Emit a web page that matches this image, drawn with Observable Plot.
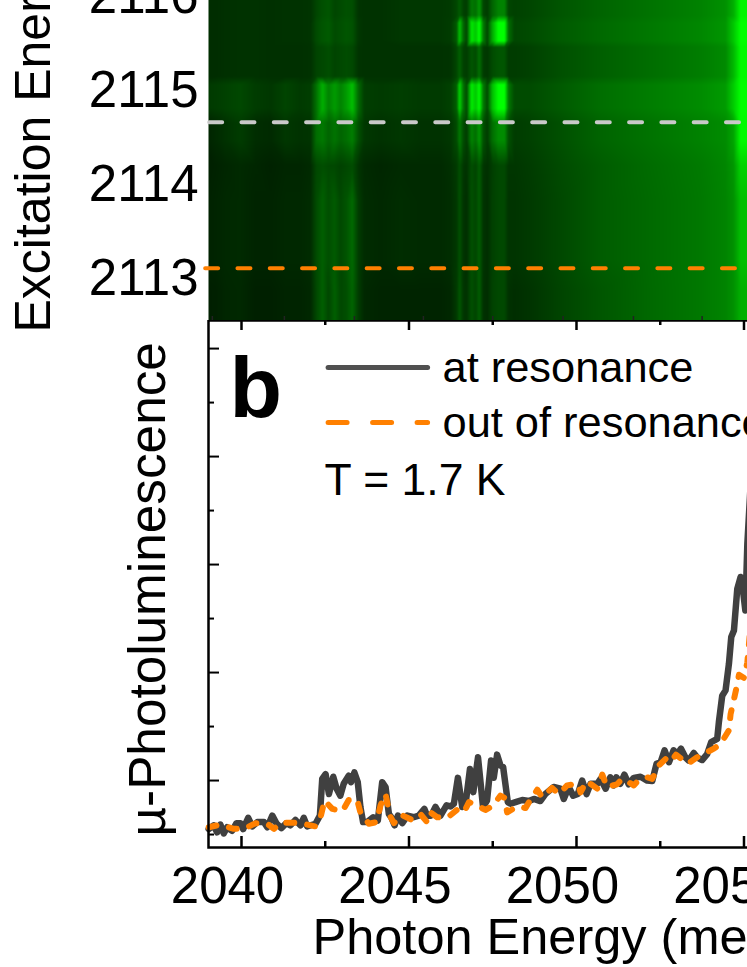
<!DOCTYPE html>
<html><head><meta charset="utf-8">
<style>
html,body{margin:0;padding:0;background:#fff;width:747px;height:967px;overflow:hidden}
svg{display:block;font-family:"Liberation Sans",Arial,sans-serif}
</style>
<script src="https://cdn.jsdelivr.net/npm/d3@7"></script>
<script src="https://cdn.jsdelivr.net/npm/@observablehq/plot@0.6"></script>
</head><body><div id="chart"></div>
<script>
// ---------- panel a: PLE map ----------
const mapEnergy=[2038.78,2039.22,2039.52,2039.97,2040.42,2040.87,2041.31,2041.76,2042.06,2042.24,2042.42,2042.60,2042.78,2042.96,2043.13,2043.31,2043.49,2043.67,2044.15,2044.75,2045.34,2045.94,2046.24,2046.42,2046.51,2046.63,2046.72,2046.87,2046.99,2047.10,2047.22,2047.34,2047.49,2047.67,2047.85,2047.97,2048.15,2048.63,2049.52,2050.72,2052.21,2053.70,2054.45,2054.69,2054.90,2060];
const profileTop=[45,45,48,50,50,48,50,50,52,70,80,85,70,75,80,78,52,50,50,55,55,55,58,70,90,65,60,120,110,150,70,60,100,130,130,70,65,70,85,100,115,130,145,175,245,255];
const profileBright=[45,45,48,50,50,48,50,50,52,75,85,90,75,80,85,82,55,50,50,55,55,55,60,90,190,100,70,230,200,255,120,70,170,255,255,110,70,75,90,105,120,135,150,200,255,255];
const profileDim=[45,45,48,50,50,48,48,48,50,68,72,78,68,72,76,72,52,50,50,50,50,50,52,70,95,65,60,85,75,110,60,55,75,85,85,60,60,65,80,95,110,125,138,185,250,255];
const profileBright2=[55,60,65,72,60,55,68,58,62,115,175,130,155,130,155,190,105,62,58,62,58,58,65,95,210,110,75,235,200,250,120,75,190,255,255,120,75,75,90,110,125,140,155,205,255,255];
const profileFade=[32,42,50,60,45,42,55,50,52,110,120,100,115,100,110,125,80,55,50,55,50,50,55,75,120,75,60,130,110,150,80,60,110,140,140,80,60,65,80,100,115,130,140,165,250,255];
const profileLow=[30,34,38,42,38,34,38,38,42,72,78,72,72,65,70,76,52,42,38,42,42,42,48,58,78,54,50,78,68,92,54,48,62,72,72,54,54,60,75,92,108,122,134,150,210,230];
const profileMid=[32,36,40,42,36,36,40,40,44,76,95,78,90,72,84,105,60,44,40,45,42,42,46,56,80,52,46,80,70,92,52,46,64,72,72,52,52,58,72,92,106,120,132,145,190,220];
const profileBottom=[30,32,38,40,32,32,36,36,40,72,95,70,95,72,78,100,60,40,36,36,36,36,40,58,85,54,50,80,68,92,50,45,66,72,72,50,46,52,68,86,105,120,132,145,175,205];
const mapExcitation=[2116.40,2115.80,2115.72,2115.53,2115.46,2115.15,2115.06,2114.81,2114.66,2114.47,2114.20,2113.83,2113.19,2112.87,2112.45];
const mapProfiles=[profileTop,profileTop,profileBright,profileBright,profileDim,profileDim,profileBright2,profileBright2,profileFade,profileFade,profileLow,profileMid,profileMid,profileBottom,profileBottom];
const excitationTicks=[2113,2114,2115,2116];
const resonantLine=[2114.663];
const offResonantLine=[2113.11];
const tinyTicks=[2039.13,2041.28,2043.37,2045.43,2047.5,2049.6,2051.7,2053.75];

// ---------- panel b: spectra ----------
const darkX=[2039.02,2039.17,2039.27,2039.37,2039.47,2039.57,2039.72,2039.85,2039.97,2040.05,2040.20,2040.32,2040.47,2040.67,2040.77,2040.92,2041.05,2041.19,2041.34,2041.46,2041.61,2041.76,2041.86,2041.96,2042.21,2042.34,2042.41,2042.51,2042.61,2042.74,2042.84,2042.95,2043.05,2043.20,2043.27,2043.37,2043.47,2043.55,2043.63,2043.75,2043.93,2044.07,2044.20,2044.30,2044.40,2044.47,2044.57,2044.67,2044.80,2044.95,2045.14,2045.29,2045.46,2045.54,2045.66,2045.79,2045.94,2046.12,2046.24,2046.34,2046.46,2046.59,2046.69,2046.82,2046.92,2047.06,2047.21,2047.33,2047.45,2047.53,2047.63,2047.73,2047.81,2047.95,2048.03,2048.18,2048.38,2048.58,2048.73,2048.92,2049.07,2049.32,2049.52,2049.62,2049.77,2049.90,2050.04,2050.17,2050.30,2050.42,2050.62,2050.72,2050.87,2051.01,2051.11,2051.19,2051.31,2051.43,2051.56,2051.71,2051.91,2052.11,2052.26,2052.39,2052.51,2052.63,2052.76,2052.90,2053.00,2053.12,2053.25,2053.35,2053.50,2053.60,2053.75,2053.90,2054.02,2054.20,2054.25,2054.35,2054.45,2054.55,2054.62,2054.70,2054.80,2054.90,2054.97,2055.04,2055.10,2055.20];
const darkY=[.10,.17,.04,.185,.02,.135,.07,.21,.21,.10,.31,.15,.23,.23,.135,.35,.20,.12,.21,.17,.27,.17,.31,.15,.20,.35,1.03,1.12,.75,1.07,.85,.72,.94,1.09,.97,1.15,.97,.51,.23,.23,.32,.26,.97,.88,.38,.32,.17,.35,.21,.35,.32,.35,.475,.35,.35,.51,.35,.54,.52,.57,1.05,.51,.57,1.215,.785,1.43,.51,.63,1.37,1.05,1.48,1.28,1.25,.60,.57,.60,.64,.62,.66,.62,.75,.88,.85,.66,.88,.72,.75,1.0,.75,.94,.94,1.03,.85,1.06,.91,1.06,.94,1.11,.93,1.05,1.07,1.0,.99,1.31,1.34,1.56,1.34,1.56,1.48,1.59,1.43,1.37,1.51,1.43,1.38,1.49,1.71,1.77,2.08,2.57,2.67,3.16,3.66,3.78,4.55,4.77,4.52,4.15,5.38,6.5];
const orangeX=[2039.02,2039.37,2039.77,2040.07,2040.42,2040.77,2040.97,2041.16,2041.46,2041.76,2042.21,2042.36,2042.48,2042.71,2043.01,2043.20,2043.45,2043.55,2043.80,2044.03,2044.15,2044.30,2044.43,2044.55,2044.75,2045.09,2045.34,2045.54,2045.64,2045.84,2046.14,2046.44,2046.64,2046.79,2046.98,2047.28,2047.48,2047.73,2047.85,2047.93,2048.23,2048.48,2048.58,2048.83,2048.98,2049.27,2049.47,2049.72,2050.04,2050.12,2050.30,2050.62,2050.77,2050.91,2051.21,2051.36,2051.56,2051.71,2051.86,2052.11,2052.26,2052.46,2052.66,2052.81,2052.97,2053.20,2053.32,2053.60,2054.10,2054.30,2054.55,2054.60,2054.67,2054.78,2054.85,2055.0,2055.1,2055.2];
const orangeY=[.135,.185,.105,.105,.21,.20,.105,.215,.22,.21,.15,.32,.63,.475,.43,.64,.65,.41,.20,.23,.54,.75,.35,.21,.37,.27,.38,.23,.41,.32,.31,.46,.41,.60,.555,.455,.52,.72,.68,.41,.52,.49,.60,.83,.69,.865,.75,.91,.94,.78,.99,.85,1.11,.88,.93,1.03,.97,.91,1.01,1.06,1.03,1.28,1.40,1.34,1.48,1.37,1.31,1.43,1.59,1.68,1.93,2.23,2.42,2.73,2.96,2.90,3.19,3.9];
const energyMajor=[2040,2045,2050,2055];
const energyMinor=[2042.5,2047.5,2052.5,2057.5];
const intensityMajor=[1,3,5,7,9];
const intensityMinor=[0,2,4,6,8];
const legendLabels=["at resonance","out of resonance"];
const legendSpan=[2042.6,2045.57];
const legendLevels=[8.65,7.63];

// ---------- layout shared by the two panels ----------
const W=900, LEFT=208, xDomain=[2039.015,2059.672];
const table=mapExcitation.flatMap((e,i)=>mapEnergy.map((x,j)=>({x,e,v:mapProfiles[i][j]})));
const darkData=darkX.map((x,i)=>({x,y:darkY[i]}));
const orangeData=orangeX.map((x,i)=>({x,y:orangeY[i]}));
const H1=360, H2=647, MB=120, FRAME2=H2-MB;

const panelA=Plot.plot({
  width:W,height:H1,marginLeft:LEFT,marginRight:0,marginTop:0,marginBottom:0,
  style:{maxWidth:"none",height:H1+"px",marginTop:"-40px",background:"transparent",overflow:"visible"},
  x:{domain:xDomain,axis:null},
  y:{domain:[2112.553,2116.383],axis:null},
  color:{type:"linear",domain:[0,255],range:["#000000","#00ff00"]},
  marks:[
    Plot.raster(table,{x:"x",y:"e",fill:"v",interpolate:"barycentric",pixelSize:1}),
    Plot.axisY({ticks:excitationTicks,tickFormat:"d",tickSize:0,tickPadding:10,fontSize:51,label:null}),
    Plot.tickX(tinyTicks,{x:d=>d,stroke:"#222",strokeWidth:1.5,insetTop:H1-4}),
    Plot.ruleY(resonantLine,{x1:2039.05,x2:2056,stroke:"#c9c9c9",strokeWidth:4,strokeDasharray:"13,19.3",strokeLinecap:"round"}),
    Plot.ruleY(offResonantLine,{x1:2038.93,x2:2056,stroke:"#ff8000",strokeWidth:4,strokeDasharray:"13,19.3",strokeLinecap:"round"}),
    Plot.text(["Excitation Energy (meV)"],{frameAnchor:"bottom-left",rotate:-90,textAnchor:"start",lineAnchor:"middle",dx:-175,dy:12,fontSize:50})
  ]
});

const panelB=Plot.plot({
  width:W,height:H2,marginLeft:LEFT,marginRight:0,marginTop:0,marginBottom:MB,
  style:{maxWidth:"none",height:H2+"px",background:"transparent",overflow:"hidden"},
  x:{domain:xDomain,axis:null},
  y:{domain:[-0.24,9.52],axis:null},
  marks:[
    Plot.axisX({ticks:energyMajor,tickFormat:"d",tickSize:0,tickPadding:19,fontSize:51,dx:-14,label:null}),
    Plot.tickX(energyMajor,{x:d=>d,strokeWidth:2.5,insetTop:FRAME2-11}),
    Plot.tickX(energyMinor,{x:d=>d,strokeWidth:2.5,insetTop:FRAME2-6}),
    Plot.tickX(energyMajor,{x:d=>d,strokeWidth:2.5,insetBottom:FRAME2-10}),
    Plot.tickX(energyMinor,{x:d=>d,strokeWidth:2.5,insetBottom:FRAME2-5}),
    Plot.tickY(intensityMajor,{y:d=>d,strokeWidth:2,insetRight:W-LEFT-11}),
    Plot.tickY(intensityMinor,{y:d=>d,strokeWidth:2,insetRight:W-LEFT-6}),
    Plot.line(darkData,{x:"x",y:"y",stroke:"#404040",strokeWidth:6.5,strokeLinejoin:"round",strokeLinecap:"round"}),
    Plot.line(orangeData,{x:"x",y:"y",stroke:"#ff8000",strokeWidth:6,strokeDasharray:"8,13",strokeLinecap:"round",strokeLinejoin:"round"}),
    Plot.ruleY([legendLevels[0]],{x1:legendSpan[0],x2:legendSpan[1],stroke:"#505050",strokeWidth:5,strokeLinecap:"round"}),
    Plot.ruleY([legendLevels[1]],{x1:legendSpan[0],x2:legendSpan[1],stroke:"#ff8000",strokeWidth:5,strokeDasharray:"19,25.5",strokeLinecap:"round"}),
    Plot.text([legendLabels[0]],{frameAnchor:"top-left",textAnchor:"start",lineAnchor:"middle",dx:234,dy:48,fontSize:43.4}),
    Plot.text([legendLabels[1]],{frameAnchor:"top-left",textAnchor:"start",lineAnchor:"middle",dx:234,dy:103,fontSize:43.4}),
    Plot.text(["T = 1.7 K"],{frameAnchor:"top-left",textAnchor:"start",lineAnchor:"middle",dx:116,dy:160,fontSize:44.5}),
    Plot.text(["b"],{frameAnchor:"top-left",textAnchor:"start",dx:21,dy:35,fontSize:86,fontWeight:"bold"}),
    Plot.text(["\u00b5-Photoluminescence"],{frameAnchor:"bottom-left",rotate:-90,textAnchor:"start",lineAnchor:"middle",dx:-60,dy:-11,fontSize:51.3}),
    Plot.text(["Photon Energy (meV)"],{frameAnchor:"bottom-left",textAnchor:"start",dx:104,dy:106,fontSize:50.5}),
    Plot.frame({stroke:"#000",strokeWidth:2.5})
  ]
});
document.getElementById("chart").append(panelA,panelB);
</script></body></html>
